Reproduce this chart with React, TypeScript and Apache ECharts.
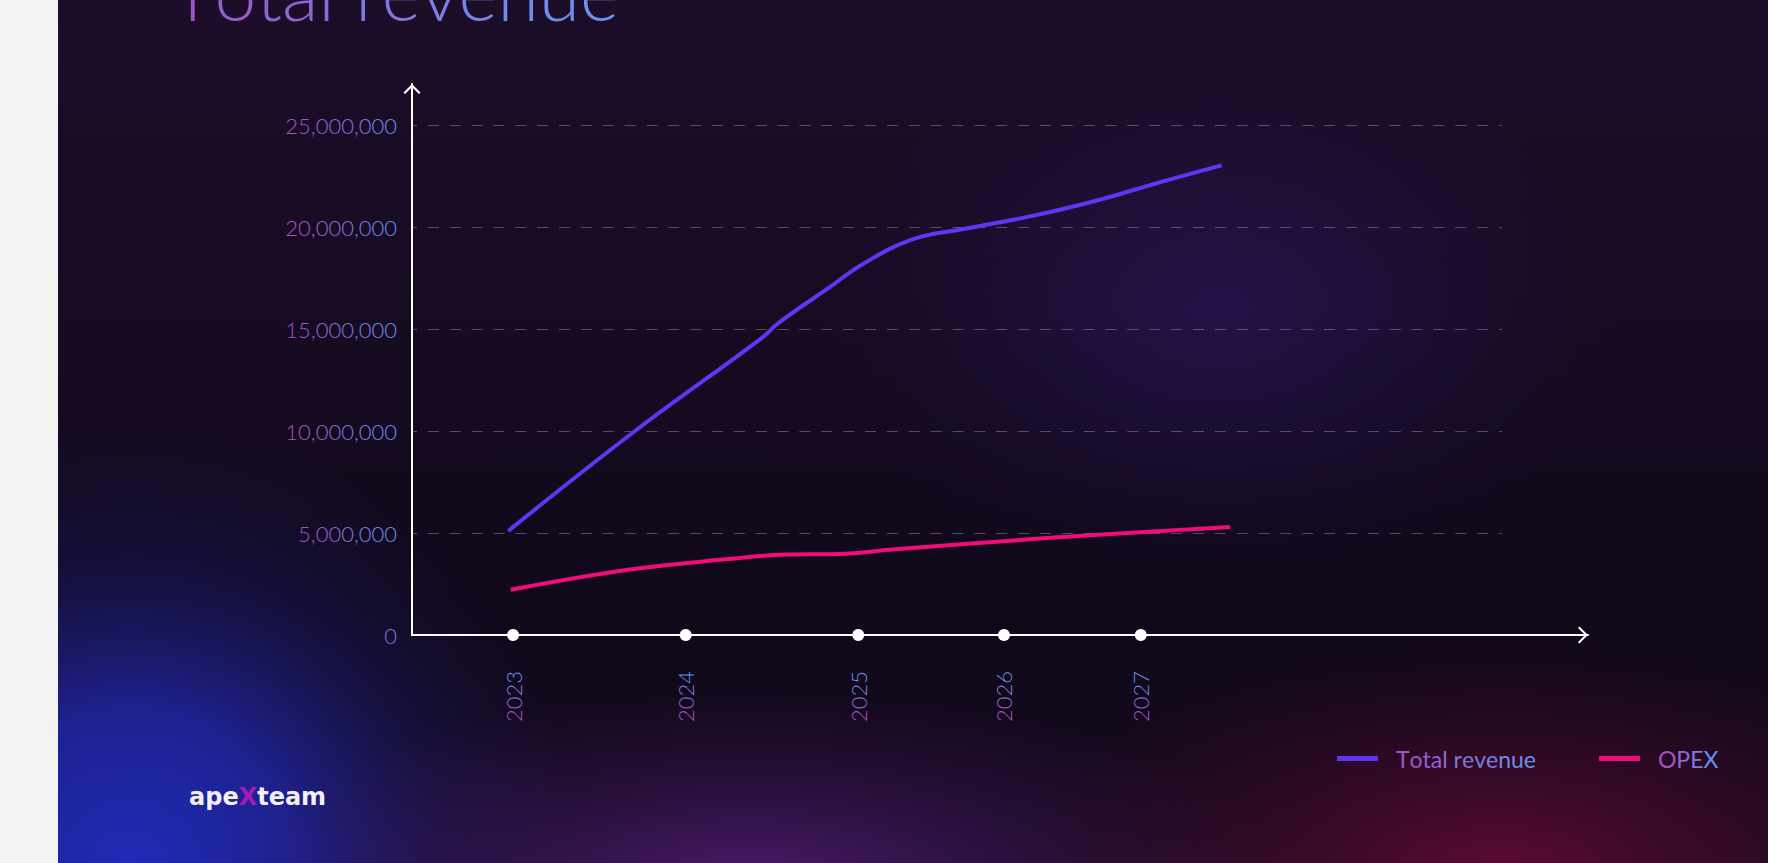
import React, { useEffect, useRef } from 'react';
import * as echarts from 'echarts';

// ---- data ----
const seriesNames = ['Total revenue', 'OPEX'];
const years = ['2023', '2024', '2025', '2026', '2027'];
// position of each year marker along the horizontal scale (0..100)
const yearPositions = [9.27, 25.11, 40.94, 54.31, 66.86];
const revenueX = [8.83, 20.46, 32.08, 33.61, 38.19, 41.26, 45.84, 50.58, 56.7, 62.5, 68.93, 74.28];
const revenueValues = [5100000, 10000000, 14550000, 15290000, 17000000, 18150000, 19380000, 19900000, 20520000, 21250000, 22240000, 23020000];
const opexX = [9.06, 19.84, 29.02, 34.22, 39.11, 44.31, 58.23, 75.05];
const opexValues = [2220000, 3200000, 3720000, 3940000, 3970000, 4200000, 4750000, 5290000];
const yMin = 0;
const yMax = 25000000;
const yStep = 5000000;
const xMin = 0;
const xMax = 100;
const titleText = 'Total revenue';

const REV_COLOR = '#5c38f2';
const OPEX_COLOR = '#f20c79';
const PURPLE = '#a552c2';
const BLUE = '#6690ee';
const N = 10;

function hex(c: string) {
  return [1, 3, 5].map((i) => parseInt(c.slice(i, i + 2), 16));
}
function lerpColor(a: string, b: string, t: number) {
  const A = hex(a), B = hex(b);
  const r = A.map((v, i) => Math.round(v + (B[i] - v) * t));
  return '#' + r.map((v) => v.toString(16).padStart(2, '0')).join('');
}
function makeRich(prefix: string, c1: string, c2: string, font: any, colorKey: string) {
  const r: any = {};
  for (let k = 0; k < N; k++) r[prefix + k] = { ...font, [colorKey]: lerpColor(c1, c2, k / (N - 1)) };
  return r;
}
function gradText(s: string, prefix: string) {
  const n = s.length;
  return s.split('').map((ch, i) => {
    const t = n > 1 ? i / (n - 1) : 0.5;
    return `{${prefix}${Math.round(t * (N - 1))}|${ch}}`;
  }).join('');
}
const radial = (stops: [number, string][]) => ({
  type: 'radial', x: 0.5, y: 0.5, r: 0.5, global: false,
  colorStops: stops.map(([offset, color]) => ({ offset, color })),
});

const CHEVRON = 'path://M0,8.6L8.5,0L17,8.6L15.5,10L8.5,2.9L1.5,10Z';

export default function App() {
  const ref = useRef<HTMLDivElement>(null);
  useEffect(() => {
    if (!ref.current) return;
    const chart = echarts.init(ref.current, undefined, { renderer: 'svg' });
    const labelFont = { fontSize: 22, fontFamily: 'Lato', fontWeight: 300 };
    const legendFont = { fontSize: 23, fontFamily: 'Lato', fontWeight: 400 };
    const titleFont = { fontSize: 75, fontFamily: 'Lato', fontWeight: 300 };
    const logoFont = { fontSize: 24, fontFamily: 'DejaVu Sans', fontWeight: 'bold' };
    const option: any = {
      animation: false,
      backgroundColor: '#f3f3f3',
      graphic: [
        { type: 'rect', z: -100, shape: { x: 58, y: 0, width: 1710, height: 863 },
          style: { fill: { type: 'linear', x: 0, y: 0, x2: 0, y2: 1, colorStops: [
            { offset: 0, color: '#1c0d28' }, { offset: 0.35, color: '#170b22' },
            { offset: 0.7, color: '#11081a' }, { offset: 1, color: '#150a1e' }] } } },
        { type: 'rect', z: -99, shape: { x: 820, y: 40, width: 800, height: 540 },
          style: { fill: radial([[0, 'rgba(48,26,110,0.5)'], [0.5, 'rgba(40,22,95,0.28)'], [1, 'rgba(30,15,70,0)']]) } },
        { type: 'rect', z: -98, shape: { x: -330, y: 420, width: 920, height: 900 },
          style: { fill: radial([[0, 'rgba(34,42,185,1)'], [0.35, 'rgba(30,38,165,0.85)'], [0.7, 'rgba(28,30,120,0.3)'], [1, 'rgba(28,28,100,0)']]) } },
        { type: 'rect', z: -97, shape: { x: 200, y: 690, width: 1100, height: 380 },
          style: { fill: radial([[0, 'rgba(90,30,125,0.8)'], [0.5, 'rgba(70,25,105,0.4)'], [1, 'rgba(60,20,90,0)']]) } },
        { type: 'rect', z: -96, shape: { x: 1000, y: 640, width: 1000, height: 460 },
          style: { fill: radial([[0, 'rgba(105,10,55,0.85)'], [0.5, 'rgba(80,10,45,0.45)'], [1, 'rgba(60,8,35,0)']]) } },
        { type: 'rect', z: -95, shape: { x: 0, y: 0, width: 58, height: 863 }, style: { fill: '#f3f3f3' } },
        { type: 'text', z: 10, x: 171, y: -8,
          style: { text: gradText(titleText, 't'), verticalAlign: 'middle', ...titleFont,
            rich: makeRich('t', '#9b55c9', '#6b92f0', titleFont, 'fill') } },
        { type: 'text', z: 10, x: 189, y: 797,
          style: { text: '{a|ape}{x|X}{a|team}', verticalAlign: 'middle', ...logoFont,
            rich: {
              a: { fill: '#f2f0f6', ...logoFont },
              x: { fill: '#a81ab6', ...logoFont },
            } } },
      ],
      legend: {
        data: seriesNames, left: 1332, top: 742, itemWidth: 41, itemHeight: 5, itemGap: 63,
        icon: 'rect',
        formatter: (name: string) => gradText(name, 'l'),
        textStyle: { ...legendFont, color: BLUE, padding: [0, 0, 0, 13],
          rich: makeRich('l', PURPLE, BLUE, legendFont, 'color') },
      },
      grid: [
        { left: 412, top: 125, width: 1090, height: 510, containLabel: false },
        { left: 412, top: 84, width: 1176, height: 551, containLabel: false },
      ],
      xAxis: [
        { type: 'value', gridIndex: 0, min: xMin, max: xMax,
          axisLine: { show: false }, axisTick: { show: false }, splitLine: { show: false },
          axisLabel: { customValues: yearPositions, rotate: 90, margin: 36, ...labelFont, color: BLUE,
            rich: makeRich('x', PURPLE, BLUE, labelFont, 'color'),
            formatter: (v: number) => { const i = yearPositions.indexOf(v); return i >= 0 ? gradText(years[i], 'x') : ''; } } },
        { type: 'value', gridIndex: 1, min: 0, max: 1,
          axisLine: { show: true, onZero: false, lineStyle: { color: '#ffffff', width: 2 },
            symbol: ['none', CHEVRON], symbolSize: [17, 10], symbolOffset: [0, -5] },
          axisTick: { show: false }, axisLabel: { show: false }, splitLine: { show: false } },
      ],
      yAxis: [
        { type: 'value', gridIndex: 0, min: yMin, max: yMax, interval: yStep,
          axisLine: { show: false }, axisTick: { show: false },
          axisLabel: { margin: 15, ...labelFont, color: BLUE,
            rich: makeRich('y', PURPLE, BLUE, labelFont, 'color'),
            formatter: (v: number) => gradText(v.toLocaleString('en-US'), 'y') },
          splitLine: { show: true, lineStyle: { color: 'rgba(255,255,255,0.28)', width: 1, type: [11, 10.86], dashOffset: 6 } } },
        { type: 'value', gridIndex: 1, min: 0, max: 1,
          axisLine: { show: true, onZero: false, lineStyle: { color: '#ffffff', width: 2 },
            symbol: ['none', CHEVRON], symbolSize: [17, 10], symbolOffset: [0, -5] },
          axisTick: { show: false }, axisLabel: { show: false }, splitLine: { show: false } },
      ],
      series: [
        { name: seriesNames[0], type: 'line', xAxisIndex: 0, yAxisIndex: 0,
          data: revenueX.map((x, i) => [x, revenueValues[i]]),
          smooth: 0.4, symbol: 'none', showSymbol: false, clip: false,
          color: REV_COLOR, lineStyle: { width: 4, color: REV_COLOR, cap: 'butt' }, z: 3 },
        { name: seriesNames[1], type: 'line', xAxisIndex: 0, yAxisIndex: 0,
          data: opexX.map((x, i) => [x, opexValues[i]]),
          smooth: 0.4, symbol: 'none', showSymbol: false, clip: false,
          color: OPEX_COLOR, lineStyle: { width: 4, color: OPEX_COLOR, cap: 'butt' }, z: 3 },
        { name: 'years', type: 'scatter', xAxisIndex: 0, yAxisIndex: 0,
          data: yearPositions.map((x) => [x, yMin]), symbolSize: 12, clip: false, silent: true,
          itemStyle: { color: '#ffffff', opacity: 1 }, z: 6 },
      ],
    };
    chart.setOption(option);
    return () => chart.dispose();
  }, []);
  return <div ref={ref} style={{ position: 'absolute', left: 0, top: 0, width: 1768, height: 863 }} />;
}
